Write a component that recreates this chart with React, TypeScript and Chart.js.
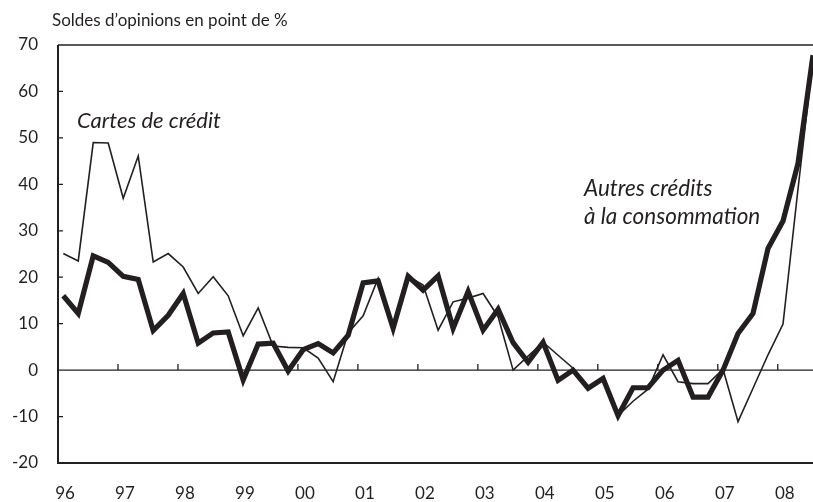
import { useEffect, useRef } from "react";
import { Chart, registerables } from "chart.js";

Chart.register(...registerables);

// Year labels (one tick every 4 quarters, starting 1996 Q1)
const yearLabels = ["96", "97", "98", "99", "00", "01", "02", "03", "04", "05", "06", "07", "08"];

// Quarterly balances of opinion (points of %), 1996 Q1 – 2008 Q3
const cartesCredit = [
  25.1, 23.5, 49.0, 48.9, 37.0, 46.1, 23.3, 25.1, 22.2, 16.5, 20.1, 16.0,
  7.4, 13.4, 5.2, 4.9, 4.8, 2.6, -2.5, 8.0, 11.7, 19.8, 9.0, 20.2,
  18.3, 8.6, 14.7, 15.5, 16.5, 11.5, 0.0, 3.0, 6.0, 3.2, 0.4, -3.9,
  -1.8, -9.8, -6.7, -4.1, 3.3, -2.5, -2.9, -2.9, 0.2, -11.1, -3.9, 3.3,
  9.9, 39.0, 67.0,
];

const autresCredits = [
  16.0, 12.2, 24.6, 23.2, 20.2, 19.5, 8.5, 11.8, 16.5, 5.8, 8.0, 8.2,
  -2.1, 5.6, 5.8, -0.2, 4.4, 5.7, 3.7, 7.5, 18.8, 19.2, 9.0, 20.2,
  17.2, 20.3, 9.0, 16.9, 8.6, 13.1, 5.9, 1.7, 6.0, -2.2, 0.0, -3.9,
  -1.8, -9.8, -3.8, -3.8, 0.0, 2.1, -5.8, -5.8, 0.0, 7.9, 12.2, 26.2,
  32.1, 44.5, 67.8,
];

const yTicks = [70, 60, 50, 40, 30, 20, 10, 0, -10, -20];

const axisTitle = "Soldes d\u2019opinions en point de %";
const labelCartes = "Cartes de crédit";
const labelAutres = ["Autres crédits", "à la consommation"];

const INK = "#231f20";
const FONT = "Lato, 'Open Sans', sans-serif";
const X_OFFSET = 0.35;

export default function App() {
  const ref = useRef<HTMLCanvasElement>(null);

  useEffect(() => {
    const canvas = ref.current;
    if (!canvas) return;
    const toPts = (arr: number[]) => arr.map((v, i) => ({ x: i + X_OFFSET, y: v }));

    const framePlugin = {
      id: "frame",
      beforeDatasetsDraw(chart: any) {
        const { ctx, chartArea: a, scales } = chart;
        const x = scales.x;
        const y = scales.y;
        ctx.save();
        ctx.strokeStyle = INK;
        ctx.lineCap = "butt";
        // left + bottom axis
        ctx.lineWidth = 2;
        ctx.beginPath();
        ctx.moveTo(a.left, a.top);
        ctx.lineTo(a.left, a.bottom);
        ctx.lineTo(a.right, a.bottom);
        ctx.stroke();
        // top border
        ctx.lineWidth = 1.5;
        ctx.beginPath();
        ctx.moveTo(a.left, a.top);
        ctx.lineTo(a.right, a.top);
        ctx.stroke();
        // zero line
        const y0 = y.getPixelForValue(0);
        ctx.lineWidth = 1.3;
        ctx.beginPath();
        ctx.moveTo(a.left, y0);
        ctx.lineTo(a.right, y0);
        ctx.stroke();
        // inner y ticks
        ctx.lineWidth = 1.3;
        ctx.beginPath();
        yTicks.forEach((v) => {
          if (v === 70 || v === -20 || v === 0) return;
          const py = y.getPixelForValue(v);
          ctx.moveTo(a.left, py);
          ctx.lineTo(a.left + 5, py);
        });
        // year ticks on zero line
        yearLabels.forEach((_, i) => {
          if (i === 0) return;
          const px = x.getPixelForValue(i * 4);
          ctx.moveTo(px, y0);
          ctx.lineTo(px, y0 - 6);
        });
        ctx.stroke();
        ctx.restore();
      },
      afterDraw(chart: any) {
        const { ctx } = chart;
        ctx.save();
        ctx.fillStyle = INK;
        ctx.textBaseline = "alphabetic";
        ctx.textAlign = "left";
        ctx.font = `17px ${FONT}`;
        ctx.fillText(axisTitle, 52, 26);
        ctx.font = `italic 22px ${FONT}`;
        ctx.fillText(labelCartes, 77, 128);
        ctx.font = `italic 22.5px ${FONT}`;
        ctx.fillText(labelAutres[0], 584, 196);
        ctx.fillText(labelAutres[1], 584, 224);
        ctx.restore();
      },
    };

    const chart = new Chart(canvas, {
      type: "line",
      data: {
        datasets: [
          {
            label: labelCartes,
            data: toPts(cartesCredit),
            borderColor: INK,
            borderWidth: 1.6,
            pointRadius: 0,
            tension: 0,
            borderJoinStyle: "miter",
          },
          {
            label: labelAutres.join(" "),
            data: toPts(autresCredits),
            borderColor: INK,
            borderWidth: 5.2,
            pointRadius: 0,
            tension: 0,
            borderJoinStyle: "miter",
          },
        ],
      },
      options: {
        responsive: false,
        animation: false,
        devicePixelRatio: 1,
        layout: { padding: { top: 45, right: 0, left: 0, bottom: 0 } },
        plugins: {
          legend: { display: false },
          tooltip: { enabled: false },
          title: { display: false },
        },
        scales: {
          x: {
            type: "linear",
            min: 0,
            max: autresCredits.length - 1 + X_OFFSET,
            afterFit(s: any) {
              s.height = 39;
            },
            afterBuildTicks(s: any) {
              s.ticks = yearLabels.map((_, i) => ({ value: i * 4 }));
            },
            grid: { display: false, drawTicks: false },
            border: { display: false },
            ticks: {
              callback: (v: any) => yearLabels[Math.round(Number(v) / 4)],
              labelOffset: 7,
              padding: 20,
              maxRotation: 0,
              autoSkip: false,
              color: INK,
              font: { family: FONT, size: 17 },
            },
          },
          y: {
            min: -20,
            max: 70,
            afterFit(s: any) {
              s.width = 58;
            },
            afterBuildTicks(s: any) {
              s.ticks = yTicks.map((v) => ({ value: v }));
            },
            grid: { display: false, drawTicks: false },
            border: { display: false },
            ticks: {
              callback: (v: any) => String(v),
              padding: 20,
              color: INK,
              font: { family: FONT, size: 17 },
            },
          },
        },
      },
      plugins: [framePlugin],
    });

    return () => chart.destroy();
  }, []);

  return (
    <div style={{ position: "fixed", left: 0, top: 0, width: 813, height: 502, background: "#fff" }}>
      <canvas ref={ref} width={813} height={502} style={{ display: "block" }} />
    </div>
  );
}
